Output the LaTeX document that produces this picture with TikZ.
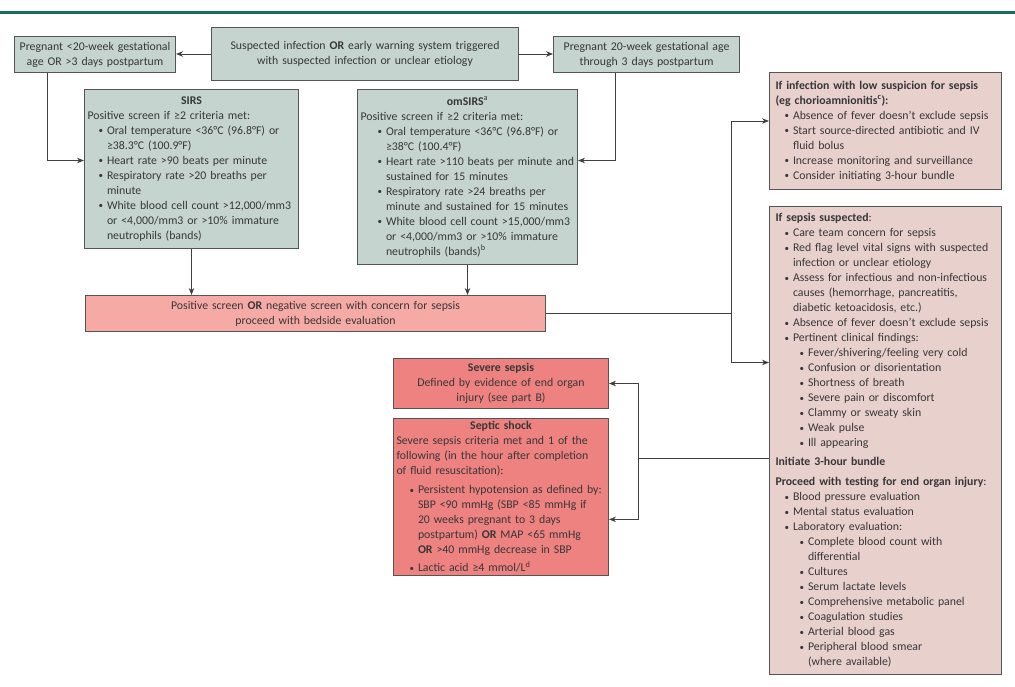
\documentclass[tikz,border=0pt]{standalone}
\usepackage{fontspec}
\setmainfont{Carlito}
\usepackage{tikz}
\usetikzlibrary{arrows.meta,shapes,positioning,calc}
\usepackage{xcolor}
\definecolor{spteal}{RGB}{24,108,98}
\definecolor{spgrey}{RGB}{197,212,207}
\definecolor{sppink}{RGB}{246,170,165}
\definecolor{spred}{RGB}{238,130,128}
\definecolor{sprose}{RGB}{232,208,205}
\definecolor{spborder}{RGB}{85,85,85}
\definecolor{sptext}{RGB}{55,55,55}
\tikzstyle{arrow} = [-{Stealth[length=7pt,width=5.5pt]},line width=0.8pt,color=black!75]
\tikzstyle{line} = [line width=0.8pt,color=black!75]
\tikzstyle{databox} = [rectangle, anchor=north west, draw=spborder, line width=1pt, inner sep=3pt, text=sptext, align=left, font=\fontsize{11.8}{15}\selectfont]
\setlength{\parindent}{0pt}
\setlength{\parskip}{0pt}
\newlength{\bulind}
\setlength{\bulind}{9pt}
\newcommand{\bulmark}{\makebox[8.5pt][l]{\raisebox{0.6pt}{\fontsize{9}{9}\selectfont\textbullet}}}
\newcommand{\bitem}[1]{\par\leftskip=\bulind\hangindent=8.5pt\hangafter=1\noindent\bulmark#1}
\newcommand{\sitem}[1]{\par\leftskip=\dimexpr\bulind+15pt\relax\hangindent=8.5pt\hangafter=1\noindent\bulmark#1}
\newcommand{\boxtitle}[1]{{\centering\bfseries #1\par}}

\begin{document}
\begin{tikzpicture}[x=1pt, y=-1pt]
\useasboundingbox (0,0) rectangle (1015,687);
\draw[spteal, line width=3pt] (0,13) -- (1015,13);
% Screening
\node[databox, fill=spgrey, minimum width=307pt, minimum height=53pt, text width=301pt, align=center] (start) at (211,27) {Suspected infection \textbf{OR} early warning system triggered\\with suspected infection or unclear etiology};
\node[databox, fill=spgrey, minimum width=161pt, minimum height=36pt, text width=155pt, align=center] (early) at (14,36) {Pregnant <20-week gestational\\age OR >3 days postpartum};
\node[databox, fill=spgrey, minimum width=186pt, minimum height=36pt, text width=180pt, align=center] (late) at (553,36) {Pregnant 20-week gestational age\\through 3 days postpartum};
\node[databox, fill=spgrey, minimum width=214pt, minimum height=159pt, text width=208pt] (sirs) at (84,89) {\setlength{\bulind}{11pt}%
\boxtitle{SIRS}
Positive screen if ≥2 criteria met:
\bitem{Oral temperature <36°C (96.8°F) or\newline ≥38.3°C (100.9°F)}
\bitem{Heart rate >90 beats per minute}
\bitem{Respiratory rate >20 breaths per\newline minute}
\bitem{White blood cell count >12,000/mm3\newline or <4,000/mm3 or >10\% immature\newline neutrophils (bands)}\par};
\node[databox, fill=spgrey, minimum width=220pt, minimum height=175pt, text width=214pt] (omsirs) at (357,89) {\setlength{\bulind}{17pt}%
\boxtitle{omSIRS\textsuperscript{\mdseries a}}
Positive screen if ≥2 criteria met:
\bitem{Oral temperature <36°C (96.8°F) or\newline ≥38°C (100.4°F)}
\bitem{Heart rate >110 beats per minute and\newline sustained for 15 minutes}
\bitem{Respiratory rate >24 breaths per\newline minute and sustained for 15 minutes}
\bitem{White blood cell count >15,000/mm3\newline or <4,000/mm3 or >10\% immature\newline neutrophils (bands)\textsuperscript{b}}\par};
\node[databox, fill=sppink, minimum width=460pt, minimum height=36pt, text width=454pt, align=center] (screen) at (85,295) {Positive screen \textbf{OR} negative screen with concern for sepsis\\proceed with bedside evaluation};
% Evaluation
\node[databox, fill=sprose, inner xsep=6pt, minimum width=232pt, minimum height=117pt, text width=220pt] (low) at (769,72) {%
\textbf{If infection with low suspicion for sepsis}\\\textbf{(eg chorioamnionitis\textsuperscript{c}):}
\bitem{Absence of fever doesn't exclude sepsis}
\bitem{Start source-directed antibiotic and IV\newline fluid bolus}
\bitem{Increase monitoring and surveillance}
\bitem{Consider initiating 3-hour bundle}\par};
\node[databox, fill=sprose, inner xsep=6pt, minimum width=232pt, minimum height=468pt, text width=220pt] (suspect) at (769,206) {%
\textbf{If sepsis suspected}:
\bitem{Care team concern for sepsis}
\bitem{Red flag level vital signs with suspected\newline infection or unclear etiology}
\bitem{Assess for infectious and non-infectious\newline causes (hemorrhage, pancreatitis,\newline diabetic ketoacidosis, etc.)}
\bitem{Absence of fever doesn't exclude sepsis}
\bitem{Pertinent clinical findings:}
\sitem{Fever/shivering/feeling very cold}
\sitem{Confusion or disorientation}
\sitem{Shortness of breath}
\sitem{Severe pain or discomfort}
\sitem{Clammy or sweaty skin}
\sitem{Weak pulse}
\sitem{Ill appearing}
\par\vspace{4pt}\leftskip=0pt
\textbf{Initiate 3-hour bundle}\par\vspace{5pt}
\textbf{Proceed with testing for end organ injury}:
\bitem{Blood pressure evaluation}
\bitem{Mental status evaluation}
\bitem{Laboratory evaluation:}
\sitem{Complete blood count with\newline differential}
\sitem{Cultures}
\sitem{Serum lactate levels}
\sitem{Comprehensive metabolic panel}
\sitem{Coagulation studies}
\sitem{Arterial blood gas}
\sitem{Peripheral blood smear\newline (where available)}\par};
% Outcomes
\node[databox, fill=spred, minimum width=215pt, minimum height=50pt, text width=209pt, align=center] (severe) at (393,358) {\textbf{Severe sepsis}\\Defined by evidence of end organ\\injury (see part B)};
\node[databox, fill=spred, minimum width=215pt, minimum height=127pt, text width=209pt] (shock) at (393,418) {\setlength{\bulind}{13pt}%
\boxtitle{Septic shock}
Severe sepsis criteria met and 1 of the\newline following (in the hour after completion\newline of fluid resuscitation):\par\vspace{4pt}
\bitem{Persistent hypotension as defined by:\newline SBP <90 mmHg (SBP <85 mmHg if\newline 20 weeks pregnant to 3 days\newline postpartum) \textbf{OR} MAP <65 mmHg\newline \textbf{OR} >40 mmHg decrease in SBP}\par\vspace{3pt}
\bitem{Lactic acid ≥4 mmol/L\textsuperscript{d}}\par};
% Connectors
\draw[arrow] (start.west) -- (start.west -| early.east);
\draw[arrow] (start.east) -- (start.east -| late.west);
\draw[arrow] ([xshift=33pt]early.south west) |- ([yshift=8.5pt]sirs.west);
\draw[arrow] ([xshift=62pt]late.south west) |- ([yshift=16.5pt]omsirs.east);
\draw[arrow] (sirs.south) -- (sirs.south |- screen.north);
\draw[arrow] (omsirs.south) -- (omsirs.south |- screen.north);
\coordinate (split) at ([xshift=185pt]screen.east);
\draw[line] (screen.east) -- (split);
\draw[arrow] (split) |- ([yshift=10pt]low.west);
\draw[arrow] (split) |- ([yshift=78pt]suspect.west);
\coordinate (bus) at ([xshift=-131pt,yshift=-18pt]suspect.west);
\draw[line] ([yshift=-18pt]suspect.west) -- (bus);
\draw[arrow] (bus) |- (severe.east);
\draw[arrow] (bus) |- ([yshift=-22.5pt]shock.east);
\end{tikzpicture}
\end{document}
